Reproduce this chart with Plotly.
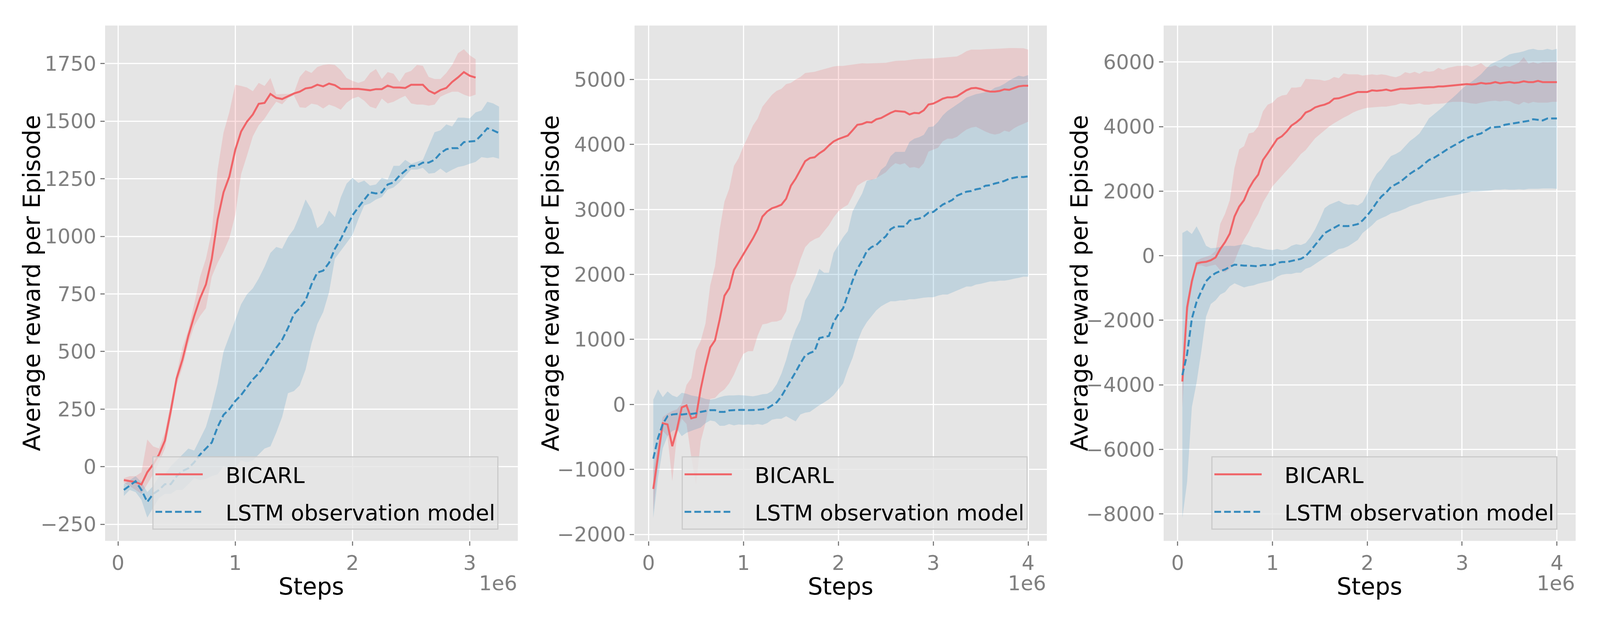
import numpy as np
import plotly.graph_objects as go

# ---- panel 1 ----
p1_bicarl = [-58, -63, -67, -77, -24, 10, 53, 113, 242, 383, 465, 568, 654, 731, 791, 903, 1074, 1191, 1260, 1375,
             1455, 1498, 1529, 1575, 1579, 1618, 1601, 1596, 1608, 1620, 1628, 1642, 1646, 1658, 1651, 1663, 1656, 1640, 1640, 1640,
             1640, 1637, 1634, 1639, 1639, 1654, 1646, 1646, 1644, 1658, 1658, 1658, 1632, 1620, 1635, 1644, 1670, 1690, 1713, 1697,
             1689]
p1_bicarl_hi = [-50, -41, -41, -24, 118, 88, 79, 148, 276, 405, 517, 594, 705, 825, 903, 1021, 1290, 1450, 1540, 1658,
                1653, 1646, 1630, 1666, 1653, 1687, 1616, 1618, 1618, 1622, 1692, 1721, 1709, 1735, 1744, 1747, 1744, 1721, 1687, 1675,
                1666, 1675, 1709, 1726, 1683, 1713, 1706, 1670, 1709, 1718, 1744, 1740, 1692, 1683, 1683, 1709, 1744, 1795, 1812, 1786,
                1769]
p1_bicarl_lo = [-70, -84, -101, -118, -75, -33, 19, 79, 208, 353, 431, 534, 611, 654, 688, 825, 885, 934, 992, 1092,
                1270, 1350, 1434, 1482, 1511, 1550, 1584, 1573, 1600, 1612, 1560, 1558, 1576, 1571, 1555, 1572, 1563, 1550, 1580, 1598,
                1606, 1589, 1563, 1555, 1598, 1577, 1584, 1598, 1610, 1577, 1572, 1572, 1567, 1572, 1606, 1618, 1628, 1628, 1615, 1606,
                1615]
p1_lstm = [-101, -81, -63, -101, -153, -118, -101, -76, -76, -41, -19, -7, 19, 53, 79, 105, 173, 225, 250, 285,
           311, 345, 379, 405, 439, 482, 517, 551, 602, 662, 688, 722, 791, 843, 851, 885, 946, 988, 1040, 1091,
           1126, 1160, 1191, 1186, 1191, 1225, 1234, 1263, 1285, 1306, 1306, 1320, 1320, 1332, 1361, 1378, 1383, 1383, 1409, 1412,
           1414, 1440, 1469, 1460, 1448]
p1_lstm_hi = [-76, -58, -41, -67, -110, -84, -41, -33, 2, 27, 53, 79, 70, 122, 173, 259, 362, 499, 568, 637,
              705, 748, 774, 817, 868, 928, 954, 946, 997, 1031, 1091, 1160, 1117, 1035, 1057, 1112, 1083, 1169, 1229, 1254,
              1232, 1242, 1220, 1225, 1254, 1246, 1306, 1306, 1332, 1315, 1323, 1332, 1392, 1452, 1460, 1486, 1477, 1515, 1515, 1512,
              1538, 1546, 1584, 1577, 1563]
p1_lstm_lo = [-127, -101, -110, -144, -221, -178, -136, -118, -118, -101, -101, -76, -50, -58, -53, -41, -33, 2, -15, -7,
              27, 19, 27, 53, 79, 88, 148, 216, 319, 328, 353, 422, 534, 619, 671, 757, 903, 937, 971, 1006,
              1074, 1134, 1143, 1160, 1170, 1203, 1212, 1234, 1262, 1290, 1290, 1297, 1272, 1275, 1294, 1275, 1289, 1301, 1306, 1315,
              1323, 1344, 1340, 1344, 1337]

# ---- panel 2 ----
p2_bicarl = [-1300, -790, -290, -308, -643, -380, -45, -15, -215, -195, 240, 585, 878, 985, 1310, 1673, 1788, 2070, 2193, 2306,
             2443, 2555, 2696, 2891, 2970, 3019, 3043, 3073, 3165, 3366, 3475, 3609, 3743, 3792, 3804, 3865, 3913, 3986, 4047, 4084,
             4114, 4138, 4218, 4303, 4315, 4345, 4340, 4388, 4408, 4447, 4487, 4517, 4507, 4503, 4463, 4487, 4481, 4527, 4616, 4630,
             4666, 4706, 4726, 4726, 4742, 4789, 4835, 4865, 4871, 4855, 4829, 4815, 4815, 4825, 4849, 4841, 4869, 4895, 4905, 4905]
p2_bicarl_hi = [-1000, -600, -195, -141, -101, -75, 19, 299, 405, 832, 979, 1245, 1832, 2126, 2696, 3122, 3317, 3670, 3792, 3974,
                4126, 4291, 4400, 4583, 4674, 4765, 4826, 4857, 4930, 4948, 5000, 5039, 5100, 5110, 5120, 5140, 5160, 5180, 5200, 5210,
                5210, 5220, 5230, 5240, 5250, 5247, 5248, 5249, 5254, 5258, 5272, 5286, 5290, 5292, 5302, 5312, 5317, 5322, 5324, 5326,
                5332, 5338, 5344, 5350, 5356, 5392, 5437, 5461, 5461, 5461, 5466, 5471, 5473, 5475, 5480, 5485, 5485, 5485, 5481, 5461]
p2_bicarl_lo = [-1650, -941, -408, -488, -1181, -461, -221, -301, -808, -1235, -568, -288, 85, 99, 179, 232, 325, 459, 632, 779,
                819, 819, 1059, 1232, 1245, 1272, 1277, 1304, 1432, 1832, 1992, 2232, 2419, 2499, 2544, 2574, 2666, 2757, 2879, 2970,
                3031, 3073, 3213, 3366, 3414, 3453, 3453, 3483, 3530, 3573, 3652, 3712, 3692, 3712, 3642, 3652, 3632, 3712, 3891, 3921,
                3950, 4050, 4090, 4090, 4119, 4179, 4229, 4259, 4273, 4239, 4200, 4169, 4153, 4169, 4213, 4193, 4249, 4288, 4318, 4352]
p2_lstm = [-835, -515, -301, -181, -155, -147, -155, -147, -147, -136, -115, -101, -88, -88, -115, -115, -93, -88, -83, -83,
           -88, -88, -83, -75, -61, -16, 32, 125, 245, 379, 499, 632, 752, 792, 821, 1022, 1035, 1053, 1266, 1388,
           1479, 1692, 1905, 2087, 2209, 2361, 2422, 2453, 2526, 2587, 2696, 2739, 2739, 2739, 2830, 2848, 2860, 2891, 2952, 2962,
           3019, 3076, 3110, 3146, 3213, 3245, 3274, 3284, 3310, 3324, 3366, 3374, 3400, 3418, 3440, 3473, 3487, 3503, 3500, 3509]
p2_lstm_hi = [72, 232, 112, 200, 139, 112, 179, 165, 139, 125, 112, 85, 72, 85, 112, 131, 139, 139, 144, 139,
              131, 125, 139, 157, 165, 205, 312, 472, 685, 952, 1152, 1300, 1600, 1725, 1900, 2087, 2027, 2027, 2331, 2453,
              2574, 2666, 2970, 3110, 3244, 3440, 3460, 3475, 3612, 3672, 3821, 3887, 3887, 3887, 4040, 4090, 4113, 4149, 4268, 4278,
              4348, 4447, 4517, 4567, 4616, 4666, 4722, 4749, 4775, 4789, 4805, 4825, 4875, 4895, 4934, 4984, 5024, 5060, 5044, 5068]
p2_lstm_lo = [-1747, -1128, -675, -488, -408, -381, -488, -435, -408, -381, -355, -288, -248, -261, -328, -328, -301, -323, -307, -315,
              -307, -315, -301, -315, -288, -235, -221, -221, -181, -221, -261, -155, -128, -115, -61, -12, 30, 79, 140, 231,
              323, 535, 718, 962, 1144, 1266, 1357, 1448, 1509, 1552, 1588, 1588, 1601, 1601, 1619, 1619, 1631, 1643, 1649, 1649,
              1674, 1692, 1692, 1722, 1753, 1783, 1814, 1814, 1844, 1856, 1874, 1893, 1893, 1905, 1905, 1917, 1935, 1948, 1966, 1966]

# ---- panel 3 ----
p3_bicarl = [-3897, -1600, -790, -240, -205, -190, -140, -55, 208, 420, 685, 1215, 1525, 1720, 2070, 2320, 2512, 2966, 3174, 3395,
             3615, 3701, 3848, 4032, 4130, 4253, 4436, 4498, 4596, 4645, 4681, 4743, 4865, 4878, 4927, 4988, 5025, 5074, 5074, 5074,
             5123, 5110, 5123, 5147, 5110, 5135, 5172, 5172, 5184, 5196, 5196, 5221, 5221, 5221, 5245, 5245, 5257, 5282, 5282, 5294,
             5319, 5306, 5319, 5355, 5331, 5343, 5380, 5343, 5355, 5380, 5355, 5368, 5404, 5380, 5380, 5417, 5380, 5380, 5380, 5380]
p3_bicarl_hi = [-3600, -1400, -720, -160, -80, -30, 20, 145, 990, 1300, 1720, 2721, 3297, 3395, 3787, 3824, 4007, 4473, 4681, 4743,
                4890, 4963, 4988, 5208, 5208, 5233, 5478, 5470, 5460, 5450, 5417, 5450, 5539, 5500, 5650, 5620, 5620, 5620, 5580, 5600,
                5620, 5600, 5620, 5600, 5560, 5530, 5580, 5686, 5650, 5700, 5640, 5723, 5700, 5720, 5821, 5760, 5820, 5850, 5882, 5880,
                5900, 5850, 5900, 5968, 5850, 5850, 5900, 5820, 5880, 5850, 5920, 5980, 6152, 5950, 6000, 5950, 6000, 5990, 6000, 6000]
p3_bicarl_lo = [-4700, -1900, -1000, -310, -297, -345, -310, -276, -448, -517, -400, -172, 200, 500, 740, 1050, 1300, 1650, 1900, 2150,
                2320, 2480, 2640, 2800, 2966, 3150, 3272, 3456, 3640, 3762, 3885, 4007, 4105, 4191, 4277, 4351, 4436, 4498, 4547, 4583,
                4596, 4608, 4620, 4620, 4645, 4669, 4718, 4706, 4681, 4694, 4718, 4681, 4681, 4706, 4706, 4718, 4743, 4767, 4767, 4767,
                4743, 4718, 4706, 4743, 4767, 4792, 4804, 4779, 4804, 4792, 4718, 4681, 4767, 4718, 4767, 4743, 4743, 4743, 4767, 4767]
p3_lstm = [-3700, -3050, -1950, -1430, -1100, -790, -635, -540, -475, -427, -344, -277, -290, -308, -308, -315, -327, -290, -290, -290,
           -221, -196, -196, -159, -123, -98, -12, 147, 331, 515, 699, 784, 858, 944, 919, 919, 944, 980, 1091, 1250,
           1434, 1654, 1838, 1961, 2132, 2218, 2292, 2414, 2537, 2635, 2721, 2843, 2966, 3027, 3113, 3211, 3309, 3395, 3481, 3554,
           3640, 3701, 3750, 3787, 3885, 3971, 3983, 3995, 4056, 4081, 4093, 4130, 4155, 4179, 4228, 4204, 4191, 4253, 4253, 4253]
p3_lstm_hi = [705, 788, 672, 908, 628, 308, 230, 243, 270, 300, 306, 300, 331, 356, 320, 265, 262, 220, 190, 178,
              208, 172, 208, 306, 355, 331, 392, 576, 821, 1127, 1471, 1581, 1642, 1703, 1618, 1581, 1593, 1556, 1654, 1924,
              2292, 2537, 2684, 2904, 3088, 3150, 3235, 3395, 3554, 3664, 3787, 4007, 4253, 4375, 4498, 4620, 4767, 4890, 5025, 5172,
              5294, 5392, 5502, 5625, 5784, 5931, 6005, 6066, 6152, 6238, 6275, 6299, 6336, 6385, 6409, 6373, 6373, 6409, 6373, 6409]
p3_lstm_lo = [-8130, -7010, -4692, -3930, -2960, -1886, -1495, -1382, -1204, -1126, -948, -855, -918, -983, -943, -918, -866, -830, -801, -765,
              -650, -588, -564, -564, -527, -527, -404, -355, -257, -159, -61, 25, 110, 208, 233, 294, 392, 490, 699, 821,
              944, 1091, 1164, 1226, 1311, 1348, 1397, 1458, 1532, 1581, 1618, 1679, 1716, 1740, 1777, 1801, 1838, 1863, 1887, 1924,
              1949, 1985, 1985, 1998, 2010, 2022, 2047, 2047, 2059, 2047, 2047, 2059, 2047, 2071, 2071, 2071, 2083, 2083, 2083, 2071]

step_every = 50000
x_ticks = [0, 1, 2, 3, 4]
p1_yticks = [-250, 0, 250, 500, 750, 1000, 1250, 1500, 1750]
p2_yticks = [-2000, -1000, 0, 1000, 2000, 3000, 4000, 5000]
p3_yticks = [-8000, -6000, -4000, -2000, 0, 2000, 4000, 6000]

RED = "rgb(240,100,104)"
RED_BAND = "rgba(240,100,104,0.2)"
BLUE = "#348ABD"
BLUE_BAND = "rgba(52,138,189,0.2)"
FONT = "DejaVu Sans"
GAP = "\u00a0\u00a0\u00a0"

# the browser page is only 4096 px wide, so the figure is laid out in fractions
# of the 4400x1600 reference and drawn 4096 wide
W, H = 4096, 1600
REF_W = 4400

panels = [
    (p1_bicarl, p1_bicarl_hi, p1_bicarl_lo, p1_lstm, p1_lstm_hi, p1_lstm_lo, p1_yticks, [-0.11e6, 3.41e6], [-322, 1915], [0, 1, 2, 3]),
    (p2_bicarl, p2_bicarl_hi, p2_bicarl_lo, p2_lstm, p2_lstm_hi, p2_lstm_lo, p2_yticks, [-0.1475e6, 4.1975e6], [-2100, 5831], x_ticks),
    (p3_bicarl, p3_bicarl_hi, p3_bicarl_lo, p3_lstm, p3_lstm_hi, p3_lstm_lo, p3_yticks, [-0.1475e6, 4.1975e6], [-8836, 7132], x_ticks),
]

x_domains = [[289 / REF_W, 1424 / REF_W], [1745 / REF_W, 2879 / REF_W], [3200 / REF_W, 4333 / REF_W]]
y_domain = [0.1275, 0.9588]
ylabel_x = [86, 1512, 2967]
legend_x = [419, 1874, 3331]

fig = go.Figure()
layout = dict(
    width=W, height=H,
    margin=dict(l=0, r=0, t=0, b=0),
    paper_bgcolor="white", plot_bgcolor="#E5E5E5",
    font=dict(family=FONT, size=52, color="#808080"),
    annotations=[],
)


def minus(v):
    return str(v).replace("-", "\u2212")


for i, (rm, rh, rl, bm, bh, bl, yt, xr, yr, xt) in enumerate(panels):
    n = "" if i == 0 else str(i + 1)
    xa, ya = "x" + n, "y" + n
    leg = "legend" + n
    rs = step_every * np.arange(1, len(rm) + 1)
    bs = step_every * np.arange(1, len(bm) + 1)

    fig.add_trace(go.Scatter(x=np.concatenate([rs, rs[::-1]]), y=rh + rl[::-1], fill="toself",
                             fillcolor=RED_BAND, line=dict(width=0), mode="lines", hoverinfo="skip",
                             showlegend=False, xaxis=xa, yaxis=ya))
    fig.add_trace(go.Scatter(x=np.concatenate([bs, bs[::-1]]), y=bh + bl[::-1], fill="toself",
                             fillcolor=BLUE_BAND, line=dict(width=0), mode="lines", hoverinfo="skip",
                             showlegend=False, xaxis=xa, yaxis=ya))
    fig.add_trace(go.Scatter(x=rs, y=rm, mode="lines", name=GAP + "BICARL", line=dict(color=RED, width=5),
                             xaxis=xa, yaxis=ya, legend=leg, legendgroup="r" + n))
    fig.add_trace(go.Scatter(x=bs, y=bm, mode="lines", name=GAP + "LSTM observation model",
                             line=dict(color=BLUE, width=5, dash="17px,8px"),
                             xaxis=xa, yaxis=ya, legend=leg, legendgroup="b" + n))

    axis_common = dict(showgrid=True, gridcolor="white", gridwidth=3, zeroline=False, showline=False,
                       ticks="outside", ticklen=11, tickwidth=2.7, tickcolor="#808080",
                       tickfont=dict(family=FONT, size=52, color="#808080"))
    layout["xaxis" + n] = dict(domain=x_domains[i], range=xr, anchor=ya,
                               tickvals=[v * 1e6 for v in xt], ticktext=[str(v) for v in xt], **axis_common)
    layout["yaxis" + n] = dict(domain=y_domain, range=yr, anchor=xa,
                               tickvals=yt, ticktext=[minus(v) for v in yt], **axis_common)
    layout[leg] = dict(x=legend_x[i] / REF_W, y=1 - 1178 / 1600, xanchor="left", yanchor="top",
                       bgcolor="rgba(229,229,229,0.8)", bordercolor="rgba(200,200,200,0.9)", borderwidth=3,
                       font=dict(family=FONT, size=56, color="black"), itemwidth=121, tracegroupgap=20)

    layout["annotations"] += [
        dict(text="Average reward per Episode", textangle=-90, xref="paper", yref="paper",
             x=ylabel_x[i] / REF_W, y=sum(y_domain) / 2, xanchor="center", yanchor="middle",
             showarrow=False, font=dict(family=FONT, size=61, color="black")),
        dict(text="Steps", xref="paper", yref="paper", x=sum(x_domains[i]) / 2, y=1 - 1513 / 1600,
             xanchor="center", yanchor="middle", showarrow=False, font=dict(family=FONT, size=60, color="black")),
        dict(text="1e6", xref="paper", yref="paper", x=x_domains[i][1], y=1 - 1505 / 1600,
             xanchor="right", yanchor="middle", showarrow=False, font=dict(family=FONT, size=52, color="#808080")),
    ]

fig.update_layout(**layout)
fig.write_html("out.html", config={"displayModeBar": False},
               post_script="document.body.style.margin='0';")
